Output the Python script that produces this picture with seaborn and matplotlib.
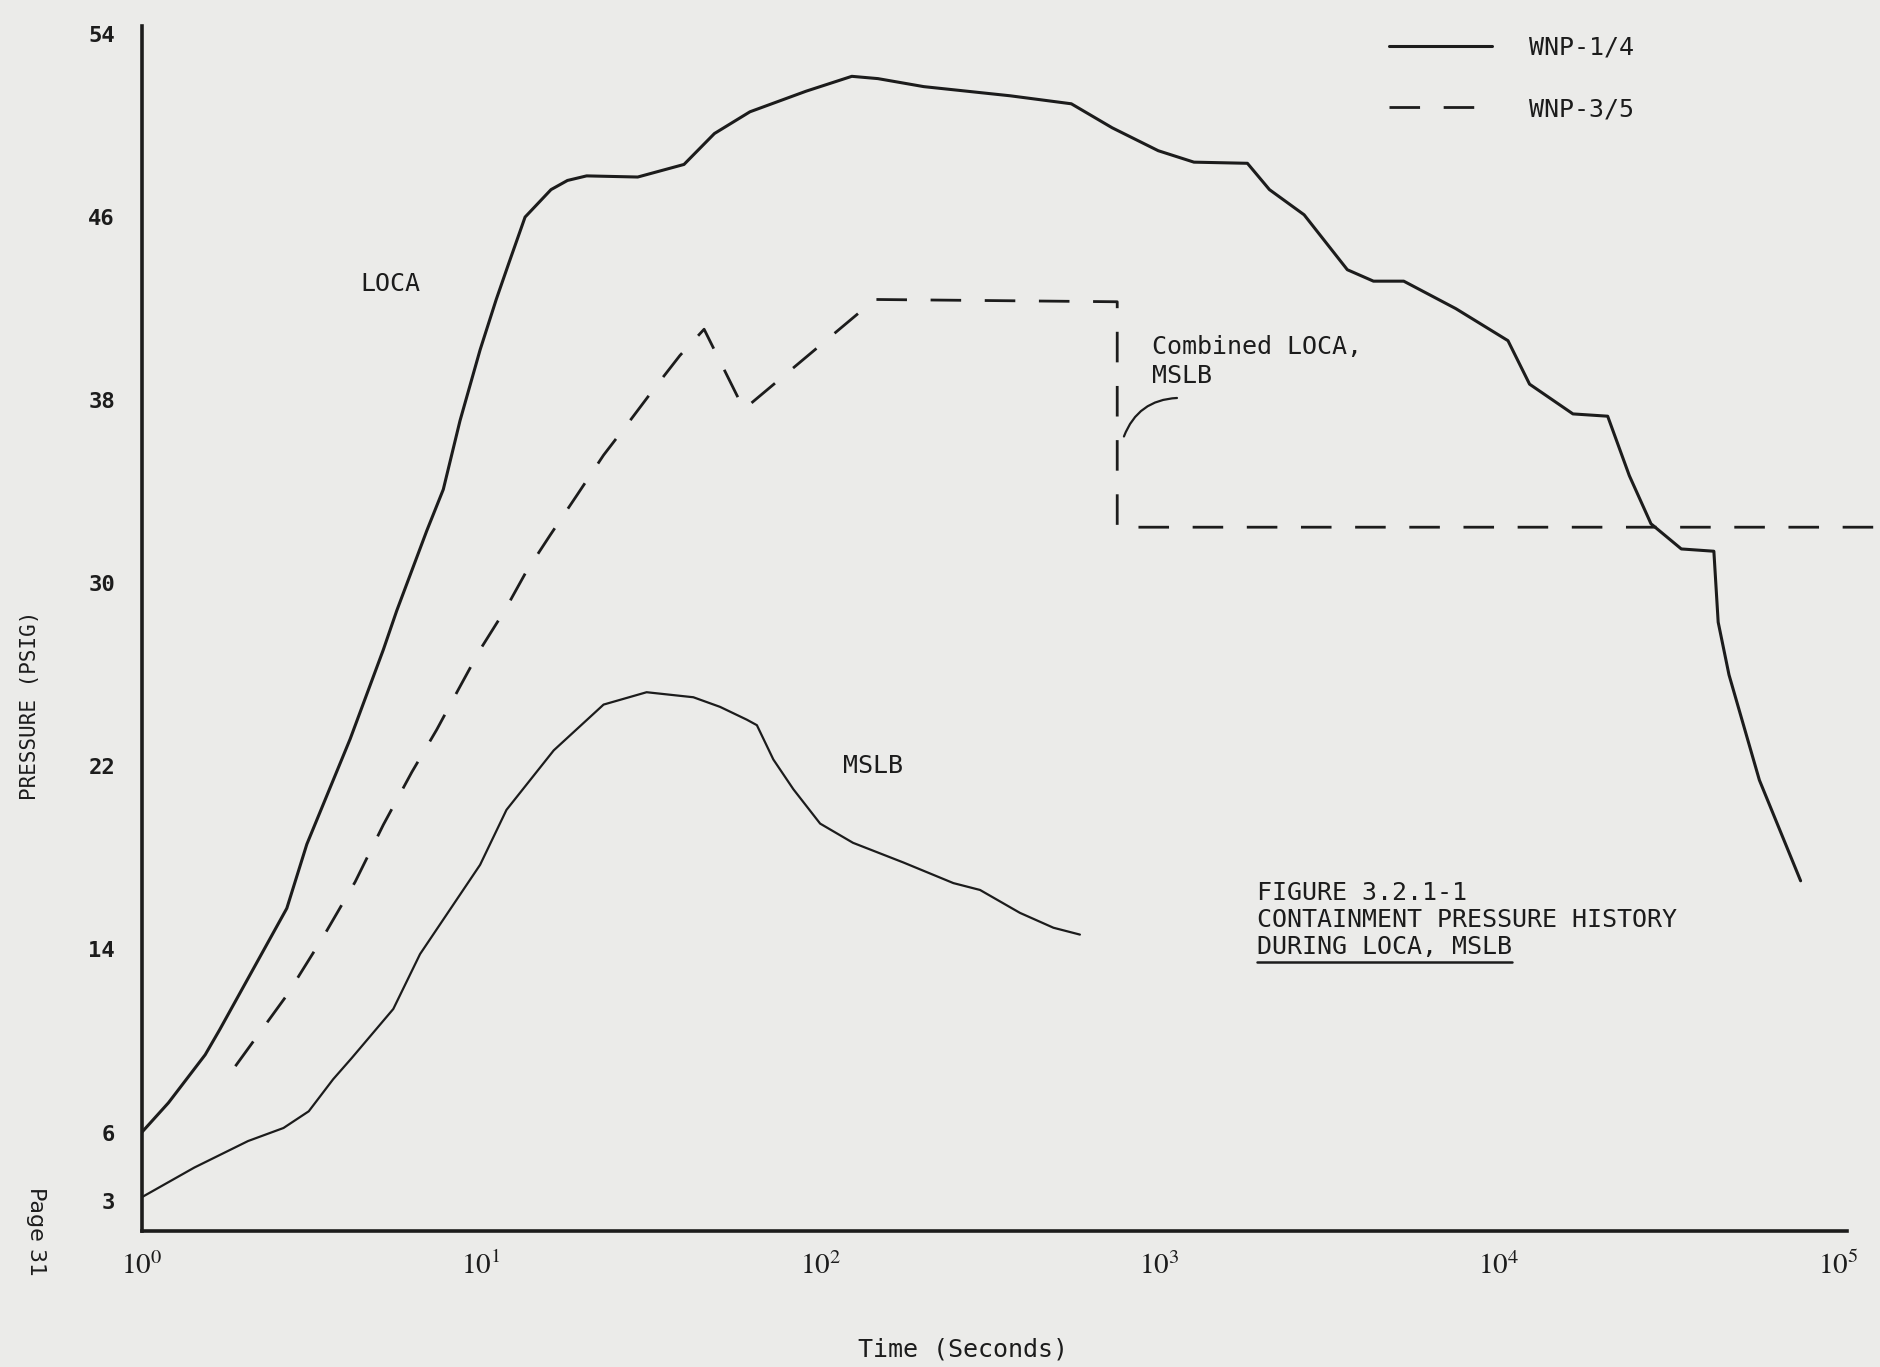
import numpy as np
import pandas as pd
import matplotlib
matplotlib.use("Agg")
import matplotlib.pyplot as plt
from matplotlib.lines import Line2D
import seaborn as sns

# Values (time in seconds, pressure in psig)
loca_time = [1.0, 1.2, 1.54, 1.70, 2.68, 3.07, 4.12, 5.16, 5.65, 6.93, 7.75, 8.68,
             9.95, 11.1, 12.1, 13.5, 16.1, 18.0, 20.5, 29.0, 39.7, 48.8, 62.1, 90.9,
             124, 148, 202, 363, 550, 726, 992, 1264, 1817, 2110, 2670, 3580, 4275,
             5250, 7475, 10650, 12330, 16550, 20950, 24270, 28110, 34530, 43070,
             44350, 47730, 58660, 77600]
loca_psig = [6.0, 7.3, 9.4, 10.5, 15.8, 18.6, 23.2, 27.1, 28.8, 32.3, 34.1, 37.1,
             40.2, 42.4, 44.0, 46.0, 47.2, 47.6, 47.8, 47.75, 48.3, 49.65, 50.6, 51.5,
             52.15, 52.05, 51.7, 51.3, 50.95, 49.9, 48.9, 48.4, 48.35, 47.2, 46.1,
             43.7, 43.2, 43.2, 42.0, 40.6, 38.7, 37.4, 37.3, 34.7, 32.6, 31.5, 31.4,
             28.3, 26.0, 21.4, 17.0]

mslb_time = [1.0, 1.43, 2.06, 2.62, 3.11, 3.67, 4.16, 5.52, 6.62, 9.95, 11.9, 16.4,
             23.0, 30.8, 42.3, 50.7, 60.8, 65.1, 72.8, 83.4, 100, 125, 176, 247,
             296, 388, 487, 583]
mslb_psig = [3.17, 4.47, 5.63, 6.2, 6.93, 8.33, 9.25, 11.4, 13.8, 17.7, 20.1, 22.7,
             24.7, 25.24, 25.02, 24.6, 24.04, 23.8, 22.3, 21.0, 19.5, 18.66, 17.8,
             16.9, 16.6, 15.6, 14.95, 14.65]

combined_time = [1.89, 2.68, 3.43, 4.26, 5.16, 6.26, 7.41, 8.58, 9.95, 11.8, 13.6,
                 16.0, 19.2, 23.0, 27.5, 32.2, 38.6, 45.5, 59.6, 145, 751, 751, 1.4e5]
combined_psig = [8.9, 12.0, 14.55, 16.95, 19.45, 21.75, 23.6, 25.35, 27.1, 28.85,
                 30.5, 32.1, 33.85, 35.6, 37.1, 38.45, 39.95, 41.1, 37.6, 42.4, 42.3,
                 32.45, 32.45]

y_ticks = [3, 6, 14, 22, 30, 38, 46, 54]
x_ticks = [1, 10, 100, 1000, 10000, 100000]
x_tick_labels = ['$10^{0}$', '$10^{1}$', '$10^{2}$', '$10^{3}$', '$10^{4}$', '$10^{5}$']

paper = '#ebebe9'
ink = '#1c1c1c'

sns.set_theme(style='white')
plt.rcParams['font.family'] = ['DejaVu Sans Mono', 'DejaVu Sans']
plt.rcParams['mathtext.fontset'] = 'stix'

fig = plt.figure(figsize=(18.8, 13.67), dpi=100, facecolor=paper)
ax = fig.add_axes([0.0753, 0.0995, 0.9247, 0.8815])
ax.set_facecolor(paper)

loca = pd.DataFrame({'t': loca_time, 'p': loca_psig})
mslb = pd.DataFrame({'t': mslb_time, 'p': mslb_psig})
comb = pd.DataFrame({'t': combined_time, 'p': combined_psig})

sns.lineplot(data=loca, x='t', y='p', ax=ax, sort=False, estimator=None,
             color=ink, linewidth=2.2, label='WNP-1/4')
sns.lineplot(data=mslb, x='t', y='p', ax=ax, sort=False, estimator=None,
             color=ink, linewidth=1.6)
sns.lineplot(data=comb, x='t', y='p', ax=ax, sort=False, estimator=None,
             color=ink, linewidth=2.0, linestyle=(0, (11, 8.5)), label='WNP-3/5')

ax.set_xscale('log')
ax.set_xlim(1, 1.33e5)
ax.set_ylim(1.7, 54.35)
ax.set_xticks(x_ticks)
ax.set_xticklabels(x_tick_labels, fontsize=21)
ax.minorticks_off()
ax.set_yticks(y_ticks)
ax.set_yticklabels([str(v) for v in y_ticks], fontsize=16, fontweight='bold')
ax.set_xlabel('')
ax.set_ylabel('')

for side in ['top', 'right']:
    ax.spines[side].set_visible(False)
for side in ['left', 'bottom']:
    ax.spines[side].set_linewidth(2.6)
    ax.spines[side].set_color(ink)
ax.spines['bottom'].set_bounds(1, 1.06e5)
ax.tick_params(axis='y', direction='out', length=5, width=2, pad=14, colors=ink)
ax.tick_params(axis='x', direction='out', length=7, width=2, pad=8, colors=ink)

# curve labels
ax.text(5.4, 43.07, 'LOCA', fontsize=18, ha='center', va='center', color=ink)
ax.text(143, 22.0, 'MSLB', fontsize=18, ha='center', va='center', color=ink)
ax.text(951, 39.7, 'Combined LOCA,\nMSLB', fontsize=18, ha='left', va='center',
        linespacing=1.25, color=ink)
ax.annotate('', xy=(781, 36.3), xytext=(1148, 38.1),
            arrowprops=dict(arrowstyle='-', color=ink, lw=1.6,
                            connectionstyle='arc3,rad=0.35'))

caption_lines = ['FIGURE 3.2.1-1', 'CONTAINMENT PRESSURE HISTORY', 'DURING LOCA, MSLB']
cap = ax.text(1941, 17.0, '\n'.join(caption_lines), fontsize=18, ha='left', va='top',
              linespacing=1.15, color=ink)

leg = ax.legend(loc='upper left', bbox_to_anchor=(0.739, 0.974),
                bbox_transform=fig.transFigure, frameon=False, fontsize=18,
                handlelength=4.1, handletextpad=1.5, labelspacing=1.5,
                borderpad=0, borderaxespad=0)
for txt in leg.get_texts():
    txt.set_color(ink)

# axis titles and page number
fig.text(30 / 1880, 1 - 705 / 1367, 'PRESSURE (PSIG)', rotation=90, fontsize=15,
         ha='center', va='center', color=ink)
fig.text(963 / 1880, 1 - 1349 / 1367, 'Time (Seconds)', fontsize=18,
         ha='center', va='center', color=ink)
fig.text(36 / 1880, 1 - 1232 / 1367, 'Page 31', rotation=270, fontsize=16,
         ha='center', va='center', color=ink, family='DejaVu Sans')

# underline under the last caption line (monospace, so width scales with length)
fig.canvas.draw()
bb = cap.get_window_extent()
frac = len(caption_lines[-1]) / max(len(s) for s in caption_lines)
x0, y0 = fig.transFigure.inverted().transform((bb.x0, bb.y0 - 3))
x1, _ = fig.transFigure.inverted().transform((bb.x0 + bb.width * frac, bb.y0))
fig.add_artist(Line2D([x0, x1], [y0, y0], transform=fig.transFigure,
                      color=ink, linewidth=1.8))

fig.savefig('out.png', dpi=100, facecolor=paper)
